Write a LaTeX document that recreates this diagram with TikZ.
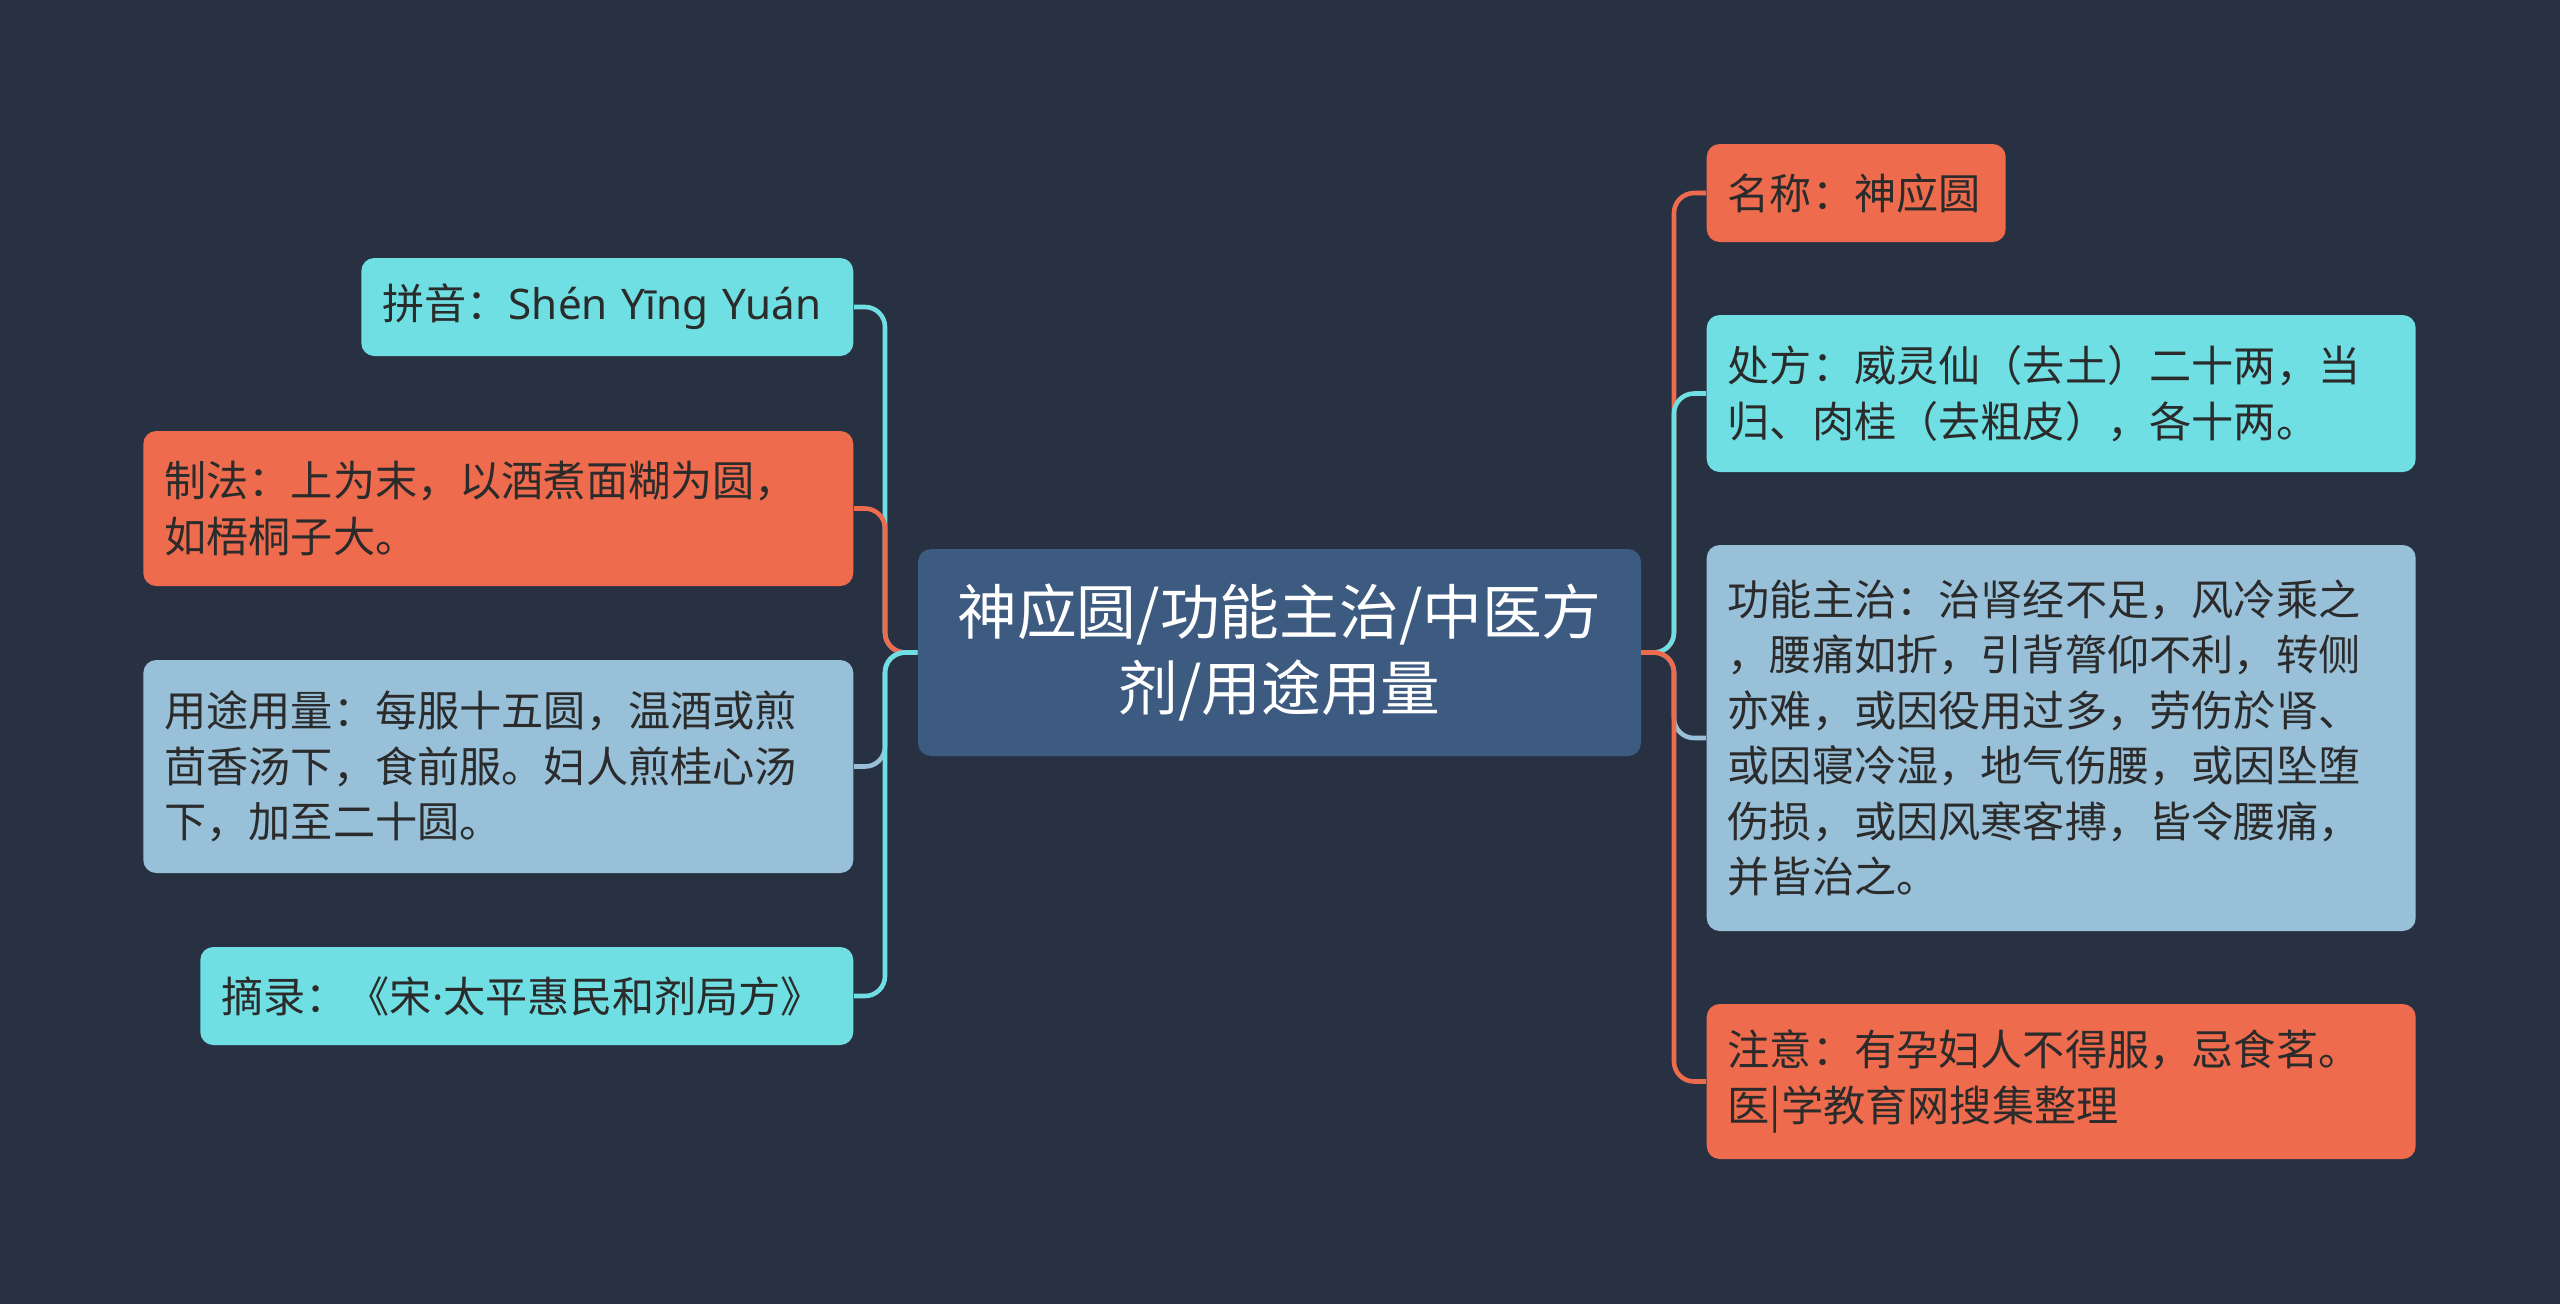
\documentclass[tikz,border=0pt]{standalone}
\usepackage{fontspec}
\setmainfont{Noto Sans CJK SC}
\newfontfamily\latinfont{Noto Sans}
\usepackage{tikz}
\usetikzlibrary{positioning,calc}
\definecolor{MapNight}{HTML}{283142}
\definecolor{MapNavy}{HTML}{3D5A80}
\definecolor{MapCoral}{HTML}{EE6C4D}
\definecolor{MapAqua}{HTML}{6FDFE3}
\definecolor{MapSky}{HTML}{98C0D9}
\definecolor{MapInk}{HTML}{2B2B2B}
\tikzset{
    % Root topic
    rootnode/.style={
        fill=MapNavy,
        text=white,
        rounded corners=0.13cm,
        minimum width=7.23cm,
        minimum height=2.07cm,
        align=center,
        font=\fontsize{17}{21.5}\selectfont
    },
    % Base leaf
    leafnode/.style={
        rounded corners=0.13cm,
        inner xsep=0.21cm,
        inner ysep=0pt,
        align=left,
        text=MapInk,
        font=\fontsize{12}{15.8}\selectfont
    },
    % Coloured leaves
    coralleaf/.style={leafnode, fill=MapCoral},
    aqualeaf/.style={leafnode, fill=MapAqua},
    skyleaf/.style={leafnode, fill=MapSky},
    % Branch line
    branch/.style={
        line width=1.3pt,
        rounded corners=0.2cm
    }
}
\begin{document}
\begin{tikzpicture}
    \fill[MapNight] (0,0) rectangle (25.6,-13.04);
    \useasboundingbox (0,0) rectangle (25.6,-13.04);

    \node[rootnode] (root) at (12.795,-6.525) {神应圆/功能主治/中医方\\剂/用途用量};

    % left side
    \node[aqualeaf, anchor=east, text width=4.50cm, minimum height=0.98cm] (pinyin) at (8.54,-3.07) {拼音：{\latinfont Shén Yīng Yuán}};
    \node[coralleaf, anchor=east, text width=6.68cm, minimum height=1.55cm] (zhifa) at (8.54,-5.085) {制法：上为末，以酒煮面糊为圆，\\如梧桐子大。};
    \node[skyleaf, anchor=east, text width=6.68cm, minimum height=2.13cm] (yongtu) at (8.54,-7.665) {用途用量：每服十五圆，温酒或煎\\茴香汤下，食前服。妇人煎桂心汤\\下，加至二十圆。};
    \node[aqualeaf, anchor=east, text width=6.11cm, minimum height=0.98cm] (zhailu) at (8.54,-9.96) {摘录：《宋{\latinfont ·}太平惠民和剂局方》};

    % right side
    \node[coralleaf, anchor=west, text width=2.57cm, minimum height=0.98cm] (mingcheng) at (17.06,-1.93) {名称：神应圆};
    \node[aqualeaf, anchor=west, text width=6.67cm, minimum height=1.57cm] (chufang) at (17.06,-3.935) {处方：威灵仙（去土）二十两，当\\归、肉桂（去粗皮），各十两。};
    \node[skyleaf, anchor=west, text width=6.67cm, minimum height=3.86cm] (gongneng) at (17.06,-7.38) {功能主治：治肾经不足，风冷乘之\\，腰痛如折，引背膂仰不利，转侧\\亦难，或因役用过多，劳伤於肾、\\或因寝冷湿，地气伤腰，或因坠堕\\伤损，或因风寒客搏，皆令腰痛，\\并皆治之。};
    \node[coralleaf, anchor=west, text width=6.67cm, minimum height=1.55cm] (zhuyi) at (17.06,-10.815) {注意：有孕妇人不得服，忌食茗。\\医|学教育网搜集整理};

    \coordinate (ltrunk) at (8.85,-6.525);
    \coordinate (rtrunk) at (16.74,-6.525);

    \draw[branch, MapAqua] (root.west) -| (ltrunk |- pinyin.east) -- (pinyin.east);
    \draw[branch, MapCoral] (root.west) -| (ltrunk |- zhifa.east) -- (zhifa.east);
    \draw[branch, MapSky] (root.west) -| (ltrunk |- yongtu.east) -- (yongtu.east);
    \draw[branch, MapAqua] (root.west) -| (ltrunk |- zhailu.east) -- (zhailu.east);

    \draw[branch, MapCoral] (root.east) -| (rtrunk |- mingcheng.west) -- (mingcheng.west);
    \draw[branch, MapAqua] (root.east) -| (rtrunk |- chufang.west) -- (chufang.west);
    \draw[branch, MapSky] (root.east) -| (rtrunk |- gongneng.west) -- (gongneng.west);
    \draw[branch, MapCoral] (root.east) -| (rtrunk |- zhuyi.west) -- (zhuyi.west);
\end{tikzpicture}
\end{document}
